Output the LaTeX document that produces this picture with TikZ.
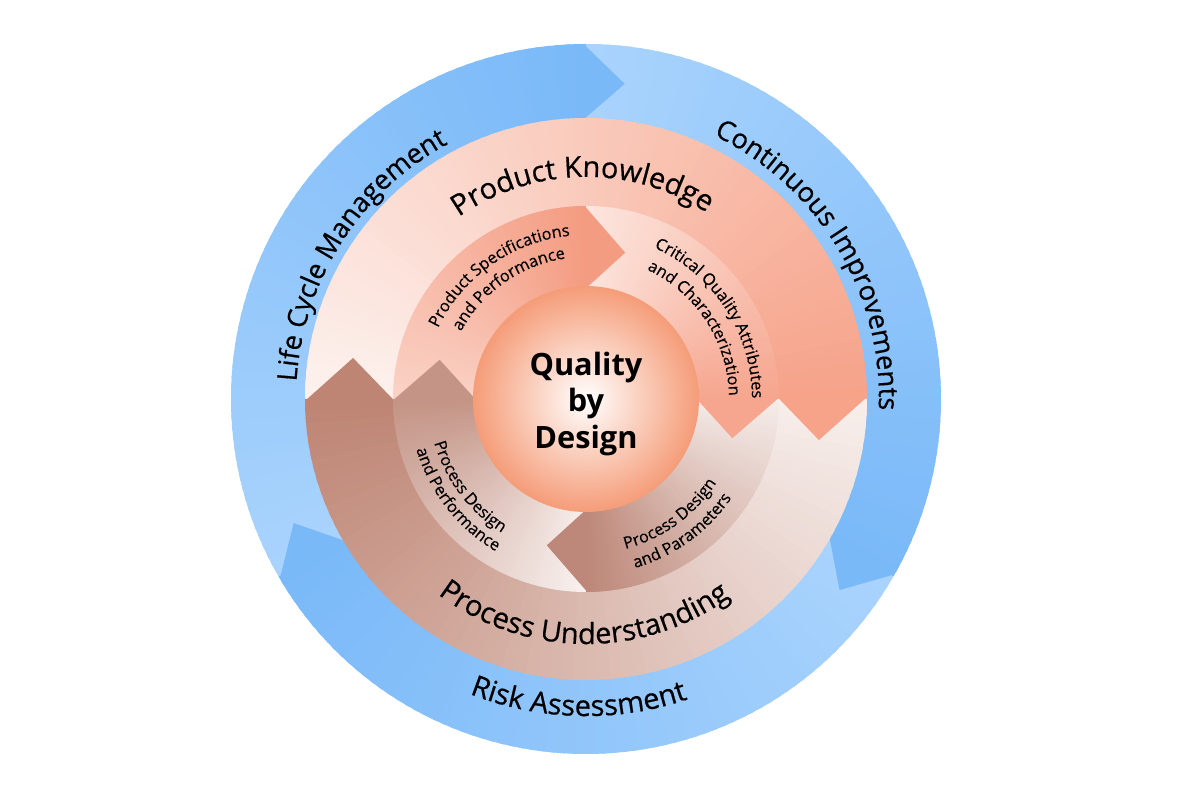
\documentclass[tikz,border=0pt]{standalone}
\usepackage{fontspec}
\setmainfont{Open Sans}
\usetikzlibrary{decorations.text}

% colours
\definecolor{bluelight}{RGB}{169,211,253}
\definecolor{bluedark}{RGB}{122,185,248}
\definecolor{pktail}{RGB}{253,241,237}
\definecolor{pkhead}{RGB}{246,163,138}
\definecolor{putail}{RGB}{247,238,235}
\definecolor{puhead}{RGB}{190,133,116}
\definecolor{pstail}{RGB}{250,210,198}
\definecolor{pshead}{RGB}{244,156,130}
\definecolor{cqtail}{RGB}{252,230,223}
\definecolor{cqhead}{RGB}{246,166,143}
\definecolor{pptail}{RGB}{245,236,233}
\definecolor{pphead}{RGB}{189,136,121}
\definecolor{pftail}{RGB}{248,240,238}
\definecolor{pfhead}{RGB}{196,148,134}
\definecolor{coreorange}{RGB}{245,156,120}

\newcommand{\ringfont}{\fontsize{15.5}{18}\selectfont\addfontfeature{FakeBold=0.5}}
\newcommand{\wideringfont}{\fontsize{16.5}{19}\selectfont\addfontfeature{FakeBold=0.5}}
\newcommand{\tagfont}{\fontsize{9.3}{11}\selectfont\addfontfeature{FakeBold=0.4}}

% body of a curved arrow: tail angle, head angle, inner r, outer r, tail colour, head colour
\newcommand{\ringbody}[6]{%
  \foreach \k in {0,...,71}{
    \pgfmathsetmacro{\angA}{#1+(#2-#1)*\k/72}
    \pgfmathsetmacro{\angB}{#1+(#2-#1)*min((\k+1.5)/72,1)}
    \pgfmathsetmacro{\mixp}{100*\k/71}
    \fill[#6!\mixp!#5] (\angA:#3) arc[start angle=\angA, end angle=\angB, radius=#3]
      -- (\angB:#4) arc[start angle=\angB, end angle=\angA, radius=#4] -- cycle;
  }}
% head of a curved arrow: base angle, depth angle, inner r, outer r, colour
\newcommand{\ringhead}[5]{%
  \fill[#5] ({#1+0.4}:#4) -- ({#1-#2}:{(#3+#4)/2}) -- ({#1+0.4}:#3) -- cycle;}

\begin{document}
\begin{tikzpicture}[x=0.02cm, y=0.02cm]

% Define styles
\tikzstyle{ringlabel} = [decorate, decoration={text along path, text align=center}]
\tikzstyle{core} = [align=center, font=\fontsize{17.5}{21}\selectfont\bfseries]

\useasboundingbox (-586,-401) rectangle (614,399);

% Outer ring: three blue arrows
\ringbody{210}{90}{280}{355}{bluelight}{bluedark}
\ringbody{90}{-30}{280}{355}{bluelight}{bluedark}
\ringbody{-30}{-150}{280}{355}{bluelight}{bluedark}
\ringhead{90}{7}{280}{355}{bluedark}
\ringhead{-30}{7}{280}{355}{bluedark}
\ringhead{-150}{7}{280}{355}{bluedark}

% Middle ring: product knowledge and process understanding
\ringbody{180}{0}{192}{281}{pktail}{pkhead}
\ringbody{0}{-180}{192}{281}{putail}{puhead}
\ringhead{0}{10}{192}{281}{pkhead}
\ringhead{-180}{10}{192}{281}{puhead}

% Inner ring: four small arrows
\ringbody{180}{90}{110}{193}{pstail}{pshead}
\ringbody{90}{0}{110}{193}{cqtail}{cqhead}
\ringbody{0}{-90}{110}{193}{pptail}{pphead}
\ringbody{270}{180}{110}{193}{pftail}{pfhead}
\ringhead{90}{15}{110}{193}{pshead}
\ringhead{0}{15}{110}{193}{cqhead}
\ringhead{-90}{15}{110}{193}{pphead}
\ringhead{180}{15}{110}{193}{pfhead}

% Core
\shade[inner color=white, outer color=coreorange] (0,0) circle[radius=113];
\node[core] (qbd) at (0,-5) {Quality\\by\\Design};

% Ring labels
\path[ringlabel, decoration={text={|\ringfont|Life Cycle Management}}]
  (207.5:290) arc[start angle=207.5, end angle=87.5, radius=290];
\path[ringlabel, decoration={text={|\ringfont|Continuous Improvements}}]
  (91:293) arc[start angle=91, end angle=-29, radius=293];
\path[ringlabel, decoration={text={|\wideringfont|Risk Assessment}}]
  (208.6:317) arc[start angle=208.6, end angle=328.6, radius=317];
\path[ringlabel, decoration={text={|\wideringfont|Product Knowledge}}]
  (151:222) arc[start angle=151, end angle=31, radius=222];
\path[ringlabel, decoration={text={|\wideringfont|Process Understanding}}]
  (209.5:245) arc[start angle=209.5, end angle=329.5, radius=245];

% Arrow labels
\path[ringlabel, decoration={text={|\tagfont|Product Specifications}}]
  (185:164) arc[start angle=185, end angle=65, radius=164];
\path[ringlabel, decoration={text={|\tagfont|and Performance}}]
  (185:142) arc[start angle=185, end angle=65, radius=142];
\path[ringlabel, decoration={text={|\tagfont|Critical Quality Attributes}}]
  (93:166) arc[start angle=93, end angle=-27, radius=166];
\path[ringlabel, decoration={text={|\tagfont|and Characterization}}]
  (93:143) arc[start angle=93, end angle=-27, radius=143];
\path[ringlabel, decoration={text={|\tagfont|Process Design}}]
  (-114:155) arc[start angle=-114, end angle=6, radius=155];
\path[ringlabel, decoration={text={|\tagfont|and Parameters}}]
  (-114:176) arc[start angle=-114, end angle=6, radius=176];
\path[ringlabel, decoration={text={|\tagfont|Process Design}}]
  (157:158) arc[start angle=157, end angle=277, radius=158];
\path[ringlabel, decoration={text={|\tagfont|and Performance}}]
  (158:177) arc[start angle=158, end angle=278, radius=177];

\end{tikzpicture}
\end{document}
